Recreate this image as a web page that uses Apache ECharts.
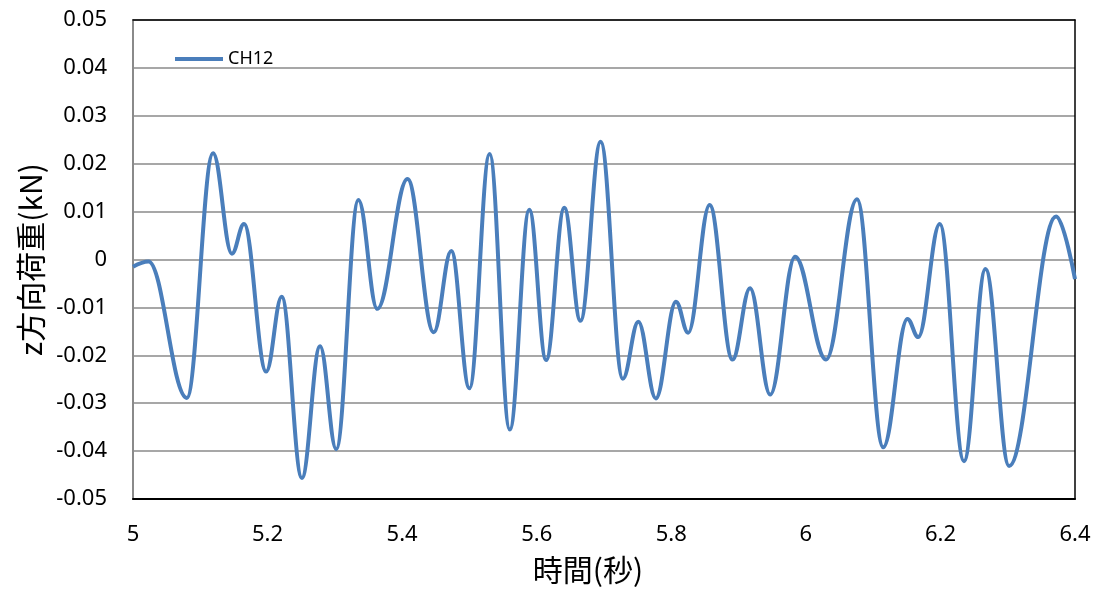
<!DOCTYPE html>
<html>
<head>
<meta charset="utf-8">
<script src="https://cdn.jsdelivr.net/npm/echarts@6/dist/echarts.min.js"></script>
<style>
  html, body { margin: 0; padding: 0; background: #ffffff; }
  #chart { width: 1100px; height: 596px; }
</style>
</head>
<body>
<div id="chart"></div>
<script>
// CH12 load in z direction, sampled at its turning points
const seriesName = 'CH12';
const times = [5.000, 5.023, 5.080, 5.119, 5.147, 5.165, 5.198, 5.221, 5.251, 5.278,
               5.302, 5.335, 5.363, 5.408, 5.447, 5.473, 5.500, 5.530, 5.560, 5.589,
               5.614, 5.641, 5.665, 5.695, 5.728, 5.751, 5.777, 5.807, 5.825, 5.857,
               5.891, 5.917, 5.947, 5.984, 6.030, 6.076, 6.115, 6.151, 6.167, 6.199,
               6.235, 6.267, 6.302, 6.372, 6.400];
const loads = [-0.0015, -0.0004, -0.0289, 0.0222, 0.0012, 0.0074, -0.0234, -0.0078, -0.0456, -0.0181,
               -0.0396, 0.0124, -0.0103, 0.0168, -0.0152, 0.0018, -0.0269, 0.0220, -0.0355, 0.0104,
               -0.0210, 0.0108, -0.0128, 0.0246, -0.0249, -0.0130, -0.0290, -0.0088, -0.0153, 0.0114,
               -0.0209, -0.0060, -0.0282, 0.0006, -0.0209, 0.0126, -0.0392, -0.0124, -0.0162, 0.0074,
               -0.0421, -0.0020, -0.0431, 0.0090, -0.0041];

const xTitle = '時間(秒)';
const yTitle = 'z方向荷重(kN)';

const points = times.map((t, i) => [t, loads[i]]);

const labelFont = '"Noto Sans", sans-serif';
const titleFont = '"Noto Sans CJK JP", sans-serif';

const chart = echarts.init(document.getElementById('chart'), null, { renderer: 'canvas' });
chart.setOption({
  backgroundColor: '#ffffff',
  animation: false,
  grid: { left: 133, right: 25, top: 20, bottom: 97, show: false },
  legend: {
    left: 170, top: 45,
    itemWidth: 48, itemHeight: 4,
    textStyle: { fontFamily: labelFont, fontSize: 18, color: '#000000' },
    data: [{ name: seriesName, icon: 'rect' }]
  },
  xAxis: [{
    type: 'value', min: 5, max: 6.4, interval: 0.2, position: 'bottom',
    name: xTitle, nameLocation: 'middle', nameGap: 56,
    nameTextStyle: { fontFamily: titleFont, fontSize: 30, color: '#000000', padding: [0, 32, 0, 0] },
    axisLine: { show: true, onZero: false, lineStyle: { color: '#000000', width: 2 } },
    axisTick: { show: false },
    splitLine: { show: false },
    axisLabel: {
      margin: 25, fontFamily: labelFont, fontSize: 22, color: '#000000',
      formatter: v => Number(v.toFixed(1)).toString()
    }
  }, {
    // top frame edge
    type: 'value', min: 5, max: 6.4, position: 'top',
    axisLine: { show: true, onZero: false, lineStyle: { color: '#000000', width: 1.5 } },
    axisTick: { show: false }, axisLabel: { show: false }, splitLine: { show: false }
  }],
  yAxis: [{
    type: 'value', min: -0.05, max: 0.05, interval: 0.01, position: 'left',
    name: yTitle, nameLocation: 'middle', nameGap: 86, nameRotate: 90,
    nameTextStyle: { fontFamily: titleFont, fontSize: 30, color: '#000000' },
    axisLine: { show: true, onZero: false, lineStyle: { color: '#8a8a8a', width: 2 } },
    axisTick: { show: false },
    splitLine: { show: true, lineStyle: { color: '#8a8a8a', width: 1.5 } },
    axisLabel: {
      margin: 26, fontFamily: labelFont, fontSize: 22, color: '#000000',
      formatter: v => Number(v.toFixed(2)).toString()
    }
  }, {
    // right frame edge
    type: 'value', min: -0.05, max: 0.05, position: 'right',
    axisLine: { show: true, onZero: false, lineStyle: { color: '#000000', width: 1.5 } },
    axisTick: { show: false }, axisLabel: { show: false }, splitLine: { show: false }
  }],
  series: [{
    name: seriesName,
    type: 'line',
    xAxisIndex: 0, yAxisIndex: 0,
    data: points,
    symbol: 'none',
    smooth: 0.38,
    smoothMonotone: 'x',
    lineStyle: { color: '#4A7EBB', width: 4 },
    itemStyle: { color: '#4A7EBB' }
  }]
});
</script>
</body>
</html>
